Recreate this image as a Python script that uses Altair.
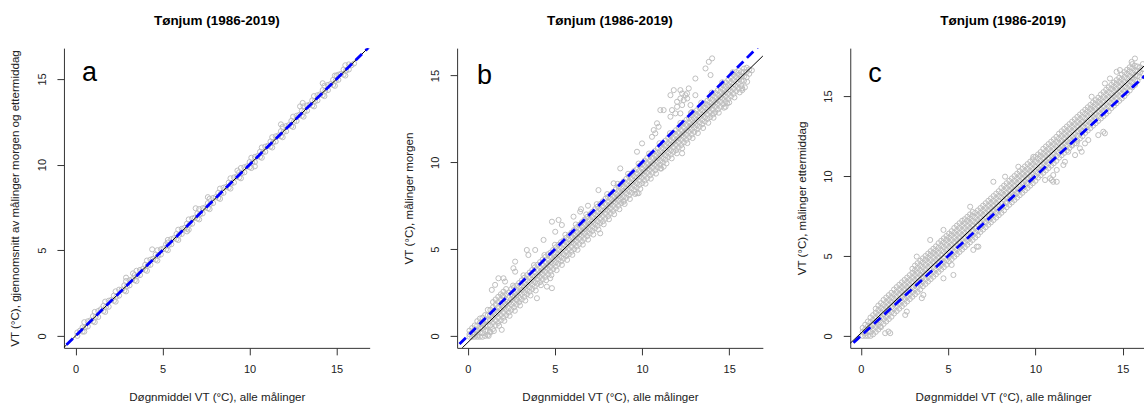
import altair as alt
import pandas as pd

FONT = "Liberation Sans"
TITLE = "Tønjum (1986-2019)"
XTITLE = "Døgnmiddel VT (°C), alle målinger"
YTITLES = ["VT (°C), gjennomsnitt av målinger morgen og ettermiddag",
           "VT (°C), målinger morgen",
           "VT (°C), målinger ettermiddag"]
LETTERS = ["a", "b", "c"]
TICKS = [0, 5, 10, 15]

# regression (black) intercept, slope per panel; blue dashed is the 1:1 line
FITS = [(0.0, 1.0), (-0.38, 0.975), (0.17, 1.03)]

# panel a: rows of [x, y values read at that x]
a_rows = [
    [0.1, 0.0, 0.2], [0.4, 0.25, 0.5], [0.7, 0.55, 0.85], [1.0, 0.85, 1.15],
    [1.3, 1.1, 1.45], [1.6, 1.45, 1.75], [1.9, 1.7, 2.05], [2.2, 2.05, 2.35],
    [2.5, 2.35, 2.7], [2.8, 2.65, 2.95], [3.1, 2.95, 3.25], [3.4, 3.25, 3.55],
    [3.7, 3.55, 3.85], [4.0, 3.85, 4.15], [4.3, 4.15, 4.45], [4.6, 4.45, 4.75],
    [4.9, 4.75, 5.05], [5.2, 5.05, 5.35], [5.5, 5.35, 5.65], [5.8, 5.65, 5.95],
    [6.1, 5.95, 6.25], [6.4, 6.25, 6.55], [6.7, 6.55, 6.85], [7.0, 6.85, 7.15],
    [7.3, 7.15, 7.45], [7.6, 7.45, 7.75], [7.9, 7.75, 8.05], [8.2, 8.05, 8.35],
    [8.5, 8.35, 8.65], [8.8, 8.65, 8.95], [9.1, 8.95, 9.25], [9.4, 9.25, 9.55],
    [9.7, 9.55, 9.85], [10.0, 9.85, 10.15], [10.3, 10.15, 10.45], [10.6, 10.45, 10.75],
    [10.9, 10.75, 11.05], [11.2, 11.05, 11.35], [11.5, 11.35, 11.65], [11.8, 11.65, 11.95],
    [12.1, 11.95, 12.25], [12.4, 12.25, 12.55], [12.7, 12.55, 12.85], [13.0, 12.85, 13.15],
    [13.3, 13.15, 13.45], [13.6, 13.45, 13.75], [13.9, 13.75, 14.05], [14.2, 14.05, 14.35],
    [14.5, 14.35, 14.65], [14.8, 14.65, 14.95], [15.1, 14.95, 15.25], [15.4, 15.25, 15.55],
    [15.7, 15.55, 15.85], [16.0, 15.9],
    [0.25, 0.3], [0.55, 0.5], [0.85, 0.9], [1.15, 1.1], [1.45, 1.55], [1.75, 1.7],
    [2.05, 2.1], [2.35, 2.3], [2.65, 2.7], [2.95, 2.9], [3.25, 3.3], [3.55, 3.5],
    [3.85, 3.9], [4.15, 4.1], [4.45, 4.5], [4.75, 4.7], [5.05, 5.1], [5.35, 5.3],
    [5.65, 5.7], [5.95, 5.9], [6.25, 6.3], [6.55, 6.5], [6.85, 6.9], [7.15, 7.1],
    [7.45, 7.5], [7.75, 7.7], [8.05, 8.1], [8.35, 8.3], [8.65, 8.7], [8.95, 8.9],
    [9.25, 9.3], [9.55, 9.5], [9.85, 9.9], [10.15, 10.1], [10.45, 10.5], [10.75, 10.7],
    [11.05, 11.1], [11.35, 11.3], [11.65, 11.7], [11.95, 11.9], [12.25, 12.3], [12.55, 12.5],
    [12.85, 12.9], [13.15, 13.1], [13.45, 13.5], [13.75, 13.7], [14.05, 14.1], [14.35, 14.3],
    [14.65, 14.7], [14.95, 14.9], [15.25, 15.3], [15.55, 15.5], [15.85, 15.8],
    [0.5, 0.25, 0.8], [1.1, 0.8, 1.4], [1.7, 1.4, 2.0], [2.3, 2.0, 2.6], [2.9, 2.6, 3.2],
    [3.5, 3.2, 3.8], [4.1, 3.8, 4.4], [4.7, 4.4, 5.0], [5.3, 5.0, 5.6], [5.9, 5.6, 6.2],
    [6.5, 6.2, 6.8], [7.1, 6.8, 7.4], [7.7, 7.4, 8.0], [8.3, 8.0, 8.6], [8.9, 8.6, 9.2],
    [9.5, 9.2, 9.8], [10.1, 9.8, 10.4], [10.7, 10.4, 11.0], [11.3, 11.0, 11.6],
    [11.9, 11.6, 12.2], [12.5, 12.2, 12.8], [13.1, 12.8, 13.4], [13.7, 13.4, 14.0],
    [14.3, 14.0, 14.6], [14.9, 14.6, 15.2], [15.5, 15.2, 15.8],
]
a_out_x = [4.4, 13.05, 14.2, 7.6, 6.9, 3.3, 11.8, 9.3, 10.3, 6.4, 12.9, 15.0, 2.9, 5.3]
a_out_y = [5.05, 13.6, 14.75, 8.1, 7.45, 3.65, 12.35, 9.65, 9.9, 6.1, 13.4, 15.2, 3.4, 5.45]

# panel b
b_rows = [
    [0.1, -0.05, 0.1, 0.3], [0.4, -0.05, 0.1, 0.35, 0.6], [0.7, -0.05, 0.2, 0.45, 0.75, 1.0],
    [1.0, 0.0, 0.3, 0.6, 0.9, 1.2], [1.3, 0.2, 0.6, 0.9, 1.2, 1.5],
    [1.6, 0.6, 0.9, 1.2, 1.5, 1.8, 2.1], [1.9, 0.9, 1.2, 1.5, 1.8, 2.1, 2.4],
    [2.2, 1.2, 1.5, 1.8, 2.1, 2.4, 2.7], [2.5, 1.5, 1.8, 2.1, 2.4, 2.7],
    [2.8, 1.8, 2.1, 2.35, 2.65, 2.9], [3.1, 2.1, 2.4, 2.65, 2.9, 3.2],
    [3.4, 2.4, 2.65, 2.95, 3.2, 3.5], [3.7, 2.7, 2.95, 3.25, 3.5, 3.8],
    [4.0, 3.0, 3.25, 3.5, 3.8, 4.1], [4.3, 3.25, 3.55, 3.8, 4.1, 4.4],
    [4.6, 3.55, 3.85, 4.1, 4.4, 4.7], [4.9, 3.85, 4.15, 4.4, 4.7, 4.95],
    [5.2, 4.15, 4.4, 4.7, 4.95, 5.25], [5.5, 4.45, 4.7, 5.0, 5.25, 5.5],
    [5.8, 4.7, 5.0, 5.3, 5.55, 5.8], [6.1, 5.0, 5.3, 5.55, 5.85, 6.1],
    [6.4, 5.3, 5.6, 5.85, 6.15, 6.4], [6.7, 5.6, 5.9, 6.15, 6.45, 6.7],
    [7.0, 5.9, 6.15, 6.45, 6.7, 7.0], [7.3, 6.2, 6.45, 6.75, 7.0, 7.3],
    [7.6, 6.5, 6.75, 7.05, 7.3, 7.6], [7.9, 6.75, 7.05, 7.3, 7.6, 7.9],
    [8.2, 7.05, 7.35, 7.6, 7.9, 8.15], [8.5, 7.35, 7.65, 7.9, 8.2, 8.45],
    [8.8, 7.65, 7.9, 8.2, 8.5, 8.75], [9.1, 7.95, 8.2, 8.5, 8.75, 9.05],
    [9.4, 8.25, 8.5, 8.8, 9.05, 9.35], [9.7, 8.55, 8.8, 9.1, 9.35, 9.6],
    [10.0, 8.8, 9.1, 9.35, 9.65, 9.9], [10.3, 9.1, 9.4, 9.65, 9.95, 10.25],
    [10.6, 9.4, 9.7, 9.95, 10.25, 10.5], [10.9, 9.7, 10.0, 10.25, 10.55, 10.8],
    [11.2, 10.0, 10.25, 10.55, 10.8, 11.1], [11.5, 10.3, 10.55, 10.85, 11.1, 11.4],
    [11.8, 10.6, 10.85, 11.15, 11.4, 11.7], [12.1, 10.85, 11.15, 11.4, 11.7, 12.0],
    [12.4, 11.15, 11.45, 11.7, 12.0, 12.3], [12.7, 11.45, 11.75, 12.0, 12.3, 12.55],
    [13.0, 11.75, 12.0, 12.3, 12.55, 12.85], [13.3, 12.05, 12.3, 12.6, 12.85, 13.15],
    [13.6, 12.35, 12.6, 12.9, 13.15, 13.4], [13.9, 12.6, 12.9, 13.2, 13.45, 13.7],
    [14.2, 12.9, 13.2, 13.45, 13.75, 14.0], [14.5, 13.2, 13.5, 13.75, 14.05, 14.3],
    [14.8, 13.5, 13.8, 14.05, 14.35, 14.6], [15.1, 13.8, 14.1, 14.35, 14.6, 14.9],
    [15.4, 14.1, 14.4, 14.65, 14.9, 15.2], [15.7, 14.4, 14.7, 14.95, 15.2],
    [16.0, 14.9, 15.2, 15.45], [16.3, 15.3],
    [0.25, -0.05, 0.2, 0.45], [0.55, -0.05, 0.05, 0.3, 0.6, 0.85],
    [0.85, -0.05, 0.15, 0.45, 0.75, 1.05], [1.15, 0.05, 0.3, 0.6, 0.9, 1.2, 1.5],
    [1.45, 0.4, 0.75, 1.05, 1.35, 1.65, 1.95], [1.75, 0.75, 1.05, 1.35, 1.65, 1.95, 2.25],
    [2.05, 1.05, 1.35, 1.65, 1.95, 2.25, 2.55], [2.35, 1.35, 1.6, 1.9, 2.2, 2.5],
    [2.65, 1.65, 1.9, 2.2, 2.5, 2.8], [2.95, 1.95, 2.2, 2.5, 2.8, 3.05],
    [3.25, 2.25, 2.5, 2.8, 3.05, 3.35], [3.55, 2.55, 2.8, 3.1, 3.35, 3.65],
    [3.85, 2.85, 3.1, 3.4, 3.65, 3.95], [4.15, 3.1, 3.4, 3.65, 3.95, 4.25],
    [4.45, 3.4, 3.7, 3.95, 4.25, 4.55], [4.75, 3.7, 4.0, 4.25, 4.55, 4.8],
    [5.05, 4.0, 4.25, 4.55, 4.8, 5.1], [5.35, 4.3, 4.55, 4.85, 5.1, 5.4],
    [5.65, 4.6, 4.85, 5.15, 5.4, 5.65], [5.95, 4.85, 5.15, 5.4, 5.7, 5.95],
    [6.25, 5.15, 5.45, 5.7, 6.0, 6.25], [6.55, 5.45, 5.75, 6.0, 6.3, 6.55],
    [6.85, 5.75, 6.0, 6.3, 6.6, 6.85], [7.15, 6.05, 6.3, 6.6, 6.85, 7.15],
    [7.45, 6.35, 6.6, 6.9, 7.15, 7.45], [7.75, 6.6, 6.9, 7.2, 7.45, 7.75],
    [8.05, 6.9, 7.2, 7.45, 7.75, 8.0], [8.35, 7.2, 7.5, 7.75, 8.05, 8.3],
    [8.65, 7.5, 7.8, 8.05, 8.35, 8.6], [8.95, 7.8, 8.05, 8.35, 8.6, 8.9],
    [9.25, 8.1, 8.35, 8.65, 8.9, 9.2], [9.55, 8.4, 8.65, 8.95, 9.2, 9.5],
    [9.85, 8.7, 8.95, 9.2, 9.5, 9.8], [10.15, 8.95, 9.25, 9.5, 9.8, 10.1],
    [10.45, 9.25, 9.55, 9.8, 10.1, 10.4], [10.75, 9.55, 9.85, 10.1, 10.4, 10.65],
    [11.05, 9.85, 10.1, 10.4, 10.65, 10.95], [11.35, 10.15, 10.4, 10.7, 10.95, 11.25],
    [11.65, 10.45, 10.7, 11.0, 11.25, 11.55], [11.95, 10.7, 11.0, 11.25, 11.55, 11.85],
    [12.25, 11.0, 11.3, 11.55, 11.85, 12.15], [12.55, 11.3, 11.6, 11.85, 12.15, 12.45],
    [12.85, 11.6, 11.9, 12.15, 12.45, 12.7], [13.15, 11.9, 12.15, 12.45, 12.7, 13.0],
    [13.45, 12.2, 12.45, 12.75, 13.0, 13.3], [13.75, 12.5, 12.75, 13.05, 13.3, 13.55],
    [14.05, 12.75, 13.05, 13.3, 13.6, 13.85], [14.35, 13.05, 13.35, 13.6, 13.9, 14.15],
    [14.65, 13.35, 13.65, 13.9, 14.2, 14.45], [14.95, 13.65, 13.95, 14.2, 14.45, 14.75],
    [15.25, 13.95, 14.25, 14.5, 14.75, 15.05], [15.55, 14.25, 14.55, 14.8, 15.05, 15.3],
    [15.85, 14.7, 14.95, 15.2, 15.4], [16.15, 15.1, 15.35],
]
# lower and upper edges of the dense band in panel b
b_edge_x = [1.2, 1.5, 1.8, 2.1, 2.4, 2.7, 3.0, 3.3, 3.6, 3.9, 4.2, 4.5, 4.8, 5.1, 5.4,
            5.7, 6.0, 6.3, 6.6, 6.9, 7.2, 7.5, 7.8, 8.1, 8.4, 8.7, 9.0, 9.3, 9.6, 9.9,
            10.2, 10.5, 10.8, 11.1, 11.4, 11.7, 12.0, 12.3, 12.6, 12.9, 13.2, 13.5, 13.8,
            14.1, 14.4, 14.7, 15.0, 15.3, 15.6, 15.9,
            2.0, 2.6, 3.2, 3.8, 4.4, 5.0, 5.6, 6.2, 6.8, 7.4, 8.0, 8.6, 9.2, 9.8, 10.4,
            11.0, 11.6, 12.2, 12.8, 13.4, 14.0, 14.6, 15.2]
b_edge_y = [0.0, 0.28, 0.58, 0.87, 1.16, 1.45, 1.75, 2.04, 2.33, 2.62, 2.92, 3.21, 3.5,
            3.79, 4.09, 4.38, 4.67, 4.96, 5.26, 5.55, 5.84, 6.13, 6.43, 6.72, 7.01, 7.3,
            7.6, 7.89, 8.18, 8.47, 8.77, 9.06, 9.35, 9.64, 9.94, 10.23, 10.52, 10.81,
            11.11, 11.4, 11.69, 11.98, 12.28, 12.57, 12.86, 13.15, 13.45, 13.74, 14.03, 14.32,
            2.32, 2.9, 3.49, 4.08, 4.66, 5.25, 5.83, 6.42, 7.0, 7.59, 8.17, 8.76, 9.34,
            9.93, 10.51, 11.1, 11.68, 12.27, 12.85, 13.44, 14.02, 14.61, 15.19]
b_out_x = [4.83, 5.21, 5.4, 5.02, 6.07, 4.35, 3.39, 3.87, 3.48, 2.72, 2.62, 2.72, 1.76,
           2.05, 1.57, 1.38, 2.14, 14.02, 13.83, 13.64, 13.93, 13.06, 12.68, 12.3, 12.49,
           12.2, 12.01, 12.39, 12.59, 12.3, 12.01, 11.72, 12.2, 11.91, 11.63, 12.78, 12.87,
           13.06, 11.05, 11.24, 10.86, 10.95, 10.67, 10.76, 10.57, 10.0, 9.71, 8.75, 8.37,
           7.5, 6.45, 6.5, 6.9, 11.63, 11.82, 12.2, 12.58,
           3.97, 4.83, 7.6, 1.95, 4.73, 14.79, 15.75, 12.3, 11.24, 9.8, 8.94, 16.03, 15.65,
           15.75, 11.05, 9.71, 4.54, 2.82, 1.28, 14.12, 14.89] + b_edge_x
b_out_y = [6.58, 6.68, 6.39, 6.0, 6.87, 5.53, 4.95, 4.95, 4.66, 4.28, 3.9, 3.7, 3.32,
           3.32, 2.94, 2.65, 3.13, 15.99, 15.79, 15.41, 15.03, 14.83, 14.26, 13.97, 13.87,
           13.68, 13.49, 13.59, 13.68, 13.3, 13.2, 13.01, 12.82, 12.82, 12.63, 13.3, 12.91,
           13.87, 13.01, 13.01, 12.25, 12.05, 11.86, 11.67, 11.47, 11.09, 10.61, 9.65, 8.79,
           8.4, 7.16, 7.3, 7.5, 13.87, 14.16, 14.16, 13.97,
           2.17, 2.75, 5.91, 0.35, 3.32, 13.2, 14.26, 10.52, 9.75, 8.22, 7.73, 14.64, 14.93,
           14.16, 9.65, 8.22, 2.84, 2.07, 0.25, 12.82, 13.4] + b_edge_y

# panel c
c_rows = [
    [0.1, 0.0, 0.25, 0.5], [0.4, 0.0, 0.3, 0.6, 0.9], [0.7, 0.1, 0.4, 0.7, 1.0, 1.3],
    [1.0, 0.4, 0.7, 1.0, 1.3, 1.6, 1.9], [1.3, 0.75, 1.05, 1.35, 1.65, 1.95, 2.25],
    [1.6, 1.05, 1.35, 1.65, 1.95, 2.25, 2.55], [1.9, 1.4, 1.7, 2.0, 2.3, 2.6, 2.9],
    [2.2, 1.7, 2.0, 2.3, 2.6, 2.9, 3.2], [2.5, 2.0, 2.3, 2.6, 2.9, 3.2, 3.5],
    [2.8, 2.3, 2.6, 2.9, 3.2, 3.5, 3.8], [3.1, 2.6, 2.9, 3.2, 3.5, 3.8, 4.1, 4.4],
    [3.4, 2.9, 3.2, 3.5, 3.8, 4.1, 4.4, 4.7], [3.7, 3.25, 3.55, 3.85, 4.15, 4.45, 4.75, 5.0],
    [4.0, 3.55, 3.85, 4.15, 4.45, 4.75, 5.05, 5.3], [4.3, 3.85, 4.15, 4.45, 4.75, 5.05, 5.35, 5.6],
    [4.6, 4.15, 4.45, 4.75, 5.05, 5.35, 5.65, 5.95], [4.9, 4.45, 4.75, 5.1, 5.4, 5.7, 6.0, 6.25],
    [5.2, 4.8, 5.1, 5.4, 5.7, 6.0, 6.3, 6.55], [5.5, 5.1, 5.4, 5.7, 6.0, 6.3, 6.6, 6.9],
    [5.8, 5.4, 5.7, 6.0, 6.3, 6.6, 6.9, 7.2], [6.1, 5.7, 6.0, 6.3, 6.6, 6.9, 7.2, 7.45],
    [6.4, 6.0, 6.3, 6.6, 6.9, 7.2, 7.5, 7.75], [6.7, 6.3, 6.6, 6.95, 7.25, 7.55, 7.85],
    [7.0, 6.65, 6.95, 7.25, 7.55, 7.85, 8.15], [7.3, 6.95, 7.25, 7.55, 7.85, 8.15, 8.45],
    [7.6, 7.25, 7.55, 7.85, 8.15, 8.45, 8.75], [7.9, 7.55, 7.85, 8.15, 8.45, 8.75, 9.05],
    [8.2, 7.85, 8.15, 8.5, 8.8, 9.1, 9.4], [8.5, 8.2, 8.5, 8.8, 9.1, 9.4, 9.7],
    [8.8, 8.5, 8.8, 9.1, 9.4, 9.7, 10.0], [9.1, 8.8, 9.1, 9.4, 9.7, 10.0, 10.3],
    [9.4, 9.1, 9.4, 9.7, 10.0, 10.3, 10.6], [9.7, 9.4, 9.7, 10.0, 10.3, 10.6, 10.9],
    [10.0, 9.7, 10.0, 10.3, 10.6, 10.9, 11.2], [10.3, 10.05, 10.35, 10.65, 10.95, 11.25, 11.5],
    [10.6, 10.35, 10.65, 10.95, 11.25, 11.55, 11.85], [10.9, 10.65, 10.95, 11.25, 11.55, 11.85, 12.15],
    [11.2, 10.95, 11.25, 11.55, 11.85, 12.15, 12.45], [11.5, 11.3, 11.6, 11.9, 12.2, 12.5, 12.8],
    [11.8, 11.6, 11.9, 12.2, 12.5, 12.8, 13.1], [12.1, 11.9, 12.2, 12.5, 12.8, 13.1, 13.4],
    [12.4, 12.2, 12.5, 12.8, 13.1, 13.4, 13.7], [12.7, 12.5, 12.8, 13.1, 13.4, 13.7, 14.0],
    [13.0, 12.85, 13.15, 13.45, 13.75, 14.05, 14.3], [13.3, 13.15, 13.45, 13.75, 14.05, 14.35, 14.6],
    [13.6, 13.45, 13.75, 14.05, 14.35, 14.65, 14.9], [13.9, 13.75, 14.05, 14.35, 14.65, 14.95, 15.25],
    [14.2, 14.05, 14.35, 14.65, 14.95, 15.25, 15.55], [14.5, 14.4, 14.7, 15.0, 15.3, 15.6, 15.85],
    [14.8, 14.7, 15.0, 15.3, 15.6, 15.9, 16.15], [15.1, 15.0, 15.3, 15.6, 15.9, 16.2, 16.5],
    [15.4, 15.35, 15.65, 15.95, 16.25, 16.55, 16.8], [15.7, 15.7, 16.0, 16.3, 16.6, 16.9],
    [16.0, 16.2, 16.5, 16.8],
    [0.25, 0.0, 0.15, 0.4, 0.7], [0.55, 0.0, 0.25, 0.55, 0.85, 1.15],
    [0.85, 0.25, 0.55, 0.85, 1.15, 1.45, 1.7], [1.15, 0.55, 0.85, 1.15, 1.45, 1.75, 2.05],
    [1.45, 0.9, 1.2, 1.5, 1.8, 2.1, 2.4], [1.75, 1.2, 1.5, 1.8, 2.1, 2.4, 2.7],
    [2.05, 1.55, 1.85, 2.15, 2.45, 2.75, 3.05], [2.35, 1.85, 2.15, 2.45, 2.75, 3.05, 3.35],
    [2.65, 2.15, 2.45, 2.75, 3.05, 3.35, 3.65], [2.95, 2.45, 2.75, 3.05, 3.35, 3.65, 3.95, 4.2],
    [3.25, 2.75, 3.05, 3.35, 3.65, 3.95, 4.25, 4.55], [3.55, 3.1, 3.4, 3.7, 4.0, 4.3, 4.6, 4.85],
    [3.85, 3.4, 3.7, 4.0, 4.3, 4.6, 4.9, 5.15], [4.15, 3.7, 4.0, 4.3, 4.6, 4.9, 5.2, 5.45],
    [4.45, 4.0, 4.3, 4.6, 4.9, 5.2, 5.5, 5.8], [4.75, 4.3, 4.6, 4.9, 5.25, 5.55, 5.85, 6.1],
    [5.05, 4.65, 4.95, 5.25, 5.55, 5.85, 6.15, 6.4], [5.35, 4.95, 5.25, 5.55, 5.85, 6.15, 6.45, 6.75],
    [5.65, 5.25, 5.55, 5.85, 6.15, 6.45, 6.75, 7.05], [5.95, 5.55, 5.85, 6.15, 6.45, 6.75, 7.05, 7.3],
    [6.25, 5.85, 6.15, 6.45, 6.75, 7.05, 7.35, 7.6], [6.55, 6.15, 6.45, 6.75, 7.1, 7.4, 7.7],
    [6.85, 6.5, 6.8, 7.1, 7.4, 7.7, 8.0], [7.15, 6.8, 7.1, 7.4, 7.7, 8.0, 8.3],
    [7.45, 7.1, 7.4, 7.7, 8.0, 8.3, 8.6], [7.75, 7.4, 7.7, 8.0, 8.3, 8.6, 8.9],
    [8.05, 7.7, 8.0, 8.3, 8.65, 8.95, 9.25], [8.35, 8.05, 8.35, 8.65, 8.95, 9.25, 9.55],
    [8.65, 8.35, 8.65, 8.95, 9.25, 9.55, 9.85], [8.95, 8.65, 8.95, 9.25, 9.55, 9.85, 10.15],
    [9.25, 8.95, 9.25, 9.55, 9.85, 10.15, 10.45], [9.55, 9.25, 9.55, 9.85, 10.15, 10.45, 10.75],
    [9.85, 9.55, 9.85, 10.15, 10.45, 10.75, 11.05], [10.15, 9.9, 10.2, 10.5, 10.8, 11.1, 11.35],
    [10.45, 10.2, 10.5, 10.8, 11.1, 11.4, 11.7], [10.75, 10.5, 10.8, 11.1, 11.4, 11.7, 12.0],
    [11.05, 10.8, 11.1, 11.4, 11.7, 12.0, 12.3], [11.35, 11.15, 11.45, 11.75, 12.05, 12.35, 12.65],
    [11.65, 11.45, 11.75, 12.05, 12.35, 12.65, 12.95], [11.95, 11.75, 12.05, 12.35, 12.65, 12.95, 13.25],
    [12.25, 12.05, 12.35, 12.65, 12.95, 13.25, 13.55], [12.55, 12.35, 12.65, 12.95, 13.25, 13.55, 13.85],
    [12.85, 12.7, 13.0, 13.3, 13.6, 13.9, 14.15], [13.15, 13.0, 13.3, 13.6, 13.9, 14.2, 14.45],
    [13.45, 13.3, 13.6, 13.9, 14.2, 14.5, 14.75], [13.75, 13.6, 13.9, 14.2, 14.5, 14.8, 15.1],
    [14.05, 13.9, 14.2, 14.5, 14.8, 15.1, 15.4], [14.35, 14.25, 14.55, 14.85, 15.15, 15.45, 15.7],
    [14.65, 14.55, 14.85, 15.15, 15.45, 15.75, 16.0], [14.95, 14.85, 15.15, 15.45, 15.75, 16.05, 16.35],
    [15.25, 15.2, 15.5, 15.8, 16.1, 16.4, 16.65], [15.55, 15.55, 15.85, 16.15, 16.45, 16.75, 17.0],
    [15.85, 15.95, 16.25, 16.55, 16.85], [16.15, 16.4, 16.7, 17.0],
]
c_out_x = [15.51, 15.7, 14.84, 14.65, 14.27, 13.98, 13.22, 3.2, 3.97, 4.73, 6.26, 7.59,
           8.26, 9.02, 9.88,
           1.39, 1.58, 1.1, 2.54, 2.63, 3.49, 3.58, 4.73, 5.3, 6.44, 6.64, 5.2, 6.73, 1.68,
           13.6, 13.89, 13.98, 13.03, 12.84, 12.55, 12.65, 12.27, 11.69, 11.6, 11.22, 11.02,
           10.55, 11.02, 10.84, 11.88, 12.08, 12.36, 11.22, 10.93]
c_out_y = [17.14, 17.35, 16.63, 16.52, 16.1, 15.79, 14.96, 4.96, 6.0, 6.63, 8.08, 9.64,
           9.96, 10.58, 11.2,
           0.17, 0.27, 0.58, 1.31, 1.52, 2.36, 2.56, 3.6, 3.81, 5.38, 5.58, 4.44, 5.58, 0.17,
           12.56, 12.77, 12.67, 12.25, 12.04, 11.73, 11.52, 11.31, 10.89, 10.69, 10.38, 10.06,
           9.75, 9.64, 9.86, 11.52, 11.94, 12.04, 9.64, 9.75]

X_DOMAINS = [[-0.67, 16.9], [-0.61, 16.93], [-0.61, 16.22]]
Y_DOMAINS = [[-0.7, 16.8], [-0.69, 16.58], [-0.75, 18.0]]
WIDTHS = [306, 306, 294]
LETTER_POS = [(18, 33), (20, 36), (18, 34)]
TITLE_DX = [0, 0, 6]


def expand(rows, ex, ey):
    xs, ys = [], []
    for r in rows:
        for y in r[1:]:
            xs.append(r[0])
            ys.append(y)
    return pd.DataFrame({"x": xs + list(ex), "y": ys + list(ey)})


def panel(i, df):
    xs = alt.Scale(domain=X_DOMAINS[i], nice=False, zero=False)
    ys = alt.Scale(domain=Y_DOMAINS[i], nice=False, zero=False)
    xaxis = alt.Axis(values=TICKS, title=XTITLE, grid=False, tickSize=7,
                     labelPadding=15, labelBaseline="middle", labelAlign="center",
                     titleX=153, titleY=50, titleAlign="center", titleBaseline="middle")
    yaxis = alt.Axis(values=TICKS, title=YTITLES[i], grid=False, tickSize=7,
                     labelAngle=270, labelAlign="center", labelBaseline="middle",
                     labelPadding=14.5, titleAngle=270, titleX=-48, titleY=150,
                     titleAlign="center", titleBaseline="middle")
    pts = alt.Chart(df).mark_point(shape="circle", filled=False, size=26, color="#BEBEBE",
                                   strokeWidth=1, opacity=1, clip=True).encode(
        x=alt.X("x:Q", scale=xs, axis=xaxis),
        y=alt.Y("y:Q", scale=ys, axis=yaxis))
    lo, hi = X_DOMAINS[i][0] - 1, X_DOMAINS[i][1] + 1
    b0, b1 = FITS[i]
    fit_df = pd.DataFrame({"x": [lo, hi], "y": [b0 + b1 * lo, b0 + b1 * hi]})
    one_df = pd.DataFrame({"x": [lo, hi], "y": [lo, hi]})
    black = alt.Chart(fit_df).mark_line(color="black", strokeWidth=1, clip=True).encode(
        x=alt.X("x:Q", scale=xs), y=alt.Y("y:Q", scale=ys))
    blue = alt.Chart(one_df).mark_line(color="#0000FF", strokeWidth=2.8, strokeDash=[9, 5],
                                       clip=True).encode(
        x=alt.X("x:Q", scale=xs), y=alt.Y("y:Q", scale=ys))
    txt = alt.Chart(pd.DataFrame({"t": [LETTERS[i]]})).mark_text(
        align="left", baseline="alphabetic", fontSize=27, font=FONT, color="black").encode(
        text="t:N", x=alt.value(LETTER_POS[i][0]), y=alt.value(LETTER_POS[i][1]))
    return alt.layer(pts, black, blue, txt).properties(
        width=WIDTHS[i], height=300,
        title=alt.TitleParams(TITLE, fontSize=13.5, fontWeight="bold", font=FONT,
                              anchor="middle", offset=10, baseline="alphabetic",
                              dx=TITLE_DX[i], color="black"))


dfs = [expand(a_rows, a_out_x, a_out_y),
       expand(b_rows, b_out_x, b_out_y),
       expand(c_rows, c_out_x, c_out_y)]

chart = alt.hconcat(*[panel(i, dfs[i]) for i in range(3)], spacing=87.5, bounds="flush").properties(
    padding={"left": 9, "top": 13, "right": 0, "bottom": 0}
).configure_view(stroke=None).configure_axis(
    domainColor="#333333", tickColor="#333333", labelColor="#222222", titleColor="#222222",
    labelFont=FONT, titleFont=FONT, labelFontSize=11, titleFontSize=11.6,
    titleFontWeight="normal", domainWidth=1, tickWidth=1
)

chart.save("out.html", embed_options={"renderer": "svg", "actions": False})
